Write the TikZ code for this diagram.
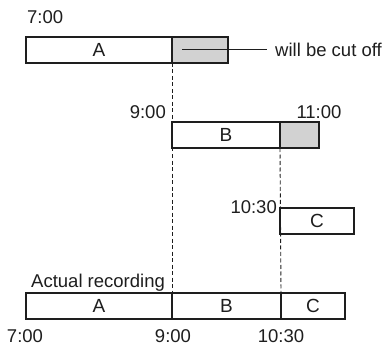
\documentclass[tikz,border=0pt]{standalone}
\usepackage{fontspec}
\setmainfont{Liberation Sans}
\usetikzlibrary{positioning}
\definecolor{CutGray}{HTML}{D2D2D2}
\definecolor{Ink}{HTML}{1E1E1E}
\tikzset{
  slot/.style={draw=Ink,fill=white,line width=1.3pt,minimum height=26pt,inner sep=0pt,outer sep=0pt,anchor=north west,font=\fontsize{19}{22}\selectfont,text=Ink},
  cutslot/.style={slot,fill=CutGray,anchor=west},
  timelabel/.style={inner sep=0pt,font=\fontsize{18.5}{22}\selectfont,text=Ink},
  guide/.style={draw=Ink,line width=0.9pt,dash pattern=on 4pt off 2.5pt},
  pointer/.style={draw=Ink,line width=1pt}
}

\begin{document}
\begin{tikzpicture}[x=1pt,y=-1pt]
  \useasboundingbox (0,0) rectangle (386,345);
  % program A
  \node[slot,minimum width=146pt] (a1) at (26,37) {A};
  \node[cutslot,minimum width=56pt] (a1cut) at (a1.east) {};
  \node[timelabel,anchor=base west] (t700a) at (27,24) {7:00};
  \coordinate (cutend) at (267,50);
  \node[timelabel,anchor=west] (cutnote) at (275,50) {will be cut off};
  % program B
  \node[slot,minimum width=108pt] (b2) at (172,122) {B};
  \node[cutslot,minimum width=39pt] (b2cut) at (b2.east) {};
  \node[timelabel,anchor=base east] (t900a) at (166,118) {9:00};
  \node[timelabel,anchor=base] (t1100) at (319,118) {11:00};
  % program C
  \node[slot,minimum width=74pt] (c3) at (280,208) {C};
  \node[timelabel,anchor=base east] (t1030a) at (277,213) {10:30};
  % actual recording
  \node[slot,minimum width=146pt] (a4) at (26,293) {A};
  \node[slot,minimum width=109pt,anchor=west] (b4) at (a4.east) {B};
  \node[slot,minimum width=64pt,anchor=west] (c4) at (b4.east) {C};
  \node[timelabel,anchor=base west] (actual) at (31,287) {Actual recording};
  \node[timelabel,anchor=base] (t700b) at (25,342) {7:00};
  \node[timelabel,anchor=base] (t900b) at (173,342) {9:00};
  \node[timelabel,anchor=base] (t1030b) at (281,342) {10:30};
  % guides
  \draw[guide] (a1.south east) -- (b4.north west);
  \draw[guide] (b2.south east) -- (c4.north west);
  \draw[pointer] ([xshift=-18pt]a1cut.center) -- (cutend);
\end{tikzpicture}
\end{document}
